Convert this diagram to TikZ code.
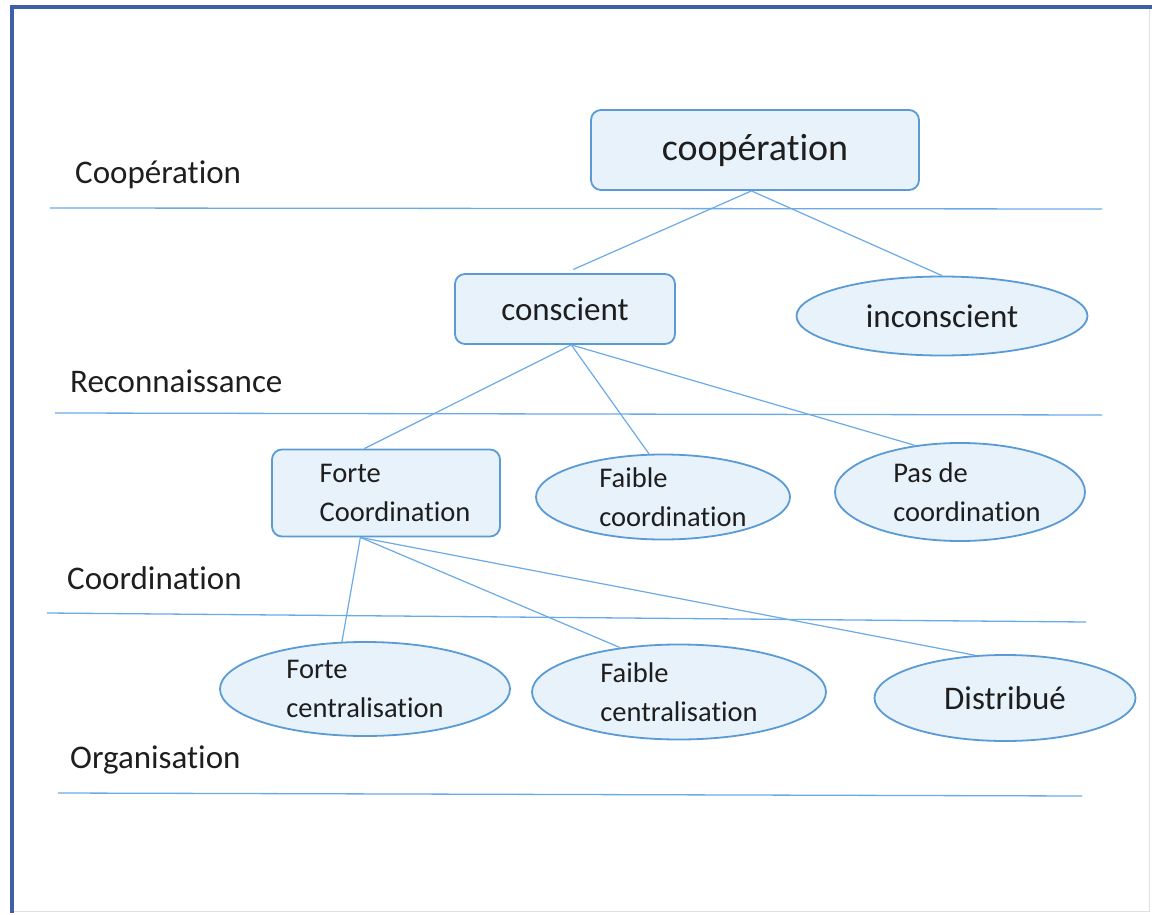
\documentclass[tikz,border=0pt]{standalone}
\usepackage{fontspec}
\setmainfont{Carlito}[Ligatures=NoCommon,RawFeature={-liga;-calt}]
\usepackage{xcolor}
\usepackage{tikz}
\usetikzlibrary{
	shapes.geometric
}
\definecolor{frameblue}{HTML}{3F5FA8}
\definecolor{edgeblue}{HTML}{5B9BD5}
\definecolor{lineblue}{HTML}{6AAAE6}
\definecolor{fillblue}{HTML}{E8F2FA}
\definecolor{inkgray}{HTML}{1E1E1E}

\tikzset{
	levelbox/.style={rounded corners=10pt,draw=edgeblue,line width=1.8pt,fill=fillblue,
		text=inkgray,inner sep=0pt},
	leveloval/.style={ellipse,draw=edgeblue,line width=1.8pt,fill=fillblue,
		text=inkgray,inner sep=0pt},
	levellabel/.style={anchor=base west,text=inkgray,inner sep=0pt,
		font=\fontsize{33}{40}\selectfont},
	bigtxt/.style={font=\fontsize{38}{46}\selectfont},
	midtxt/.style={font=\fontsize{33}{40}\selectfont},
	smalltxt/.style={font=\fontsize{28.5}{39}\selectfont,align=left},
	link/.style={draw=lineblue,line width=1.2pt},
	sepline/.style={draw=lineblue,line width=1.3pt}
}

\begin{document}
\begin{tikzpicture}[x=1pt,y=-1pt]
	\useasboundingbox (0,0) rectangle (1152,915);
	% frame
	\draw[black!12,line width=1pt] (1149,7) -- (1149,911) -- (12,911);
	\draw[frameblue,line width=4pt] (12,913) -- (12,7) -- (1152,7);
	%
	\draw[sepline] (50,208) -- (1102,209);
	\draw[sepline] (55,413) -- (1102,415);
	\draw[sepline] (47,613) -- (1086,622);
	\draw[sepline] (58,793) -- (1082,796);
	%
	\node[levellabel] (lcoop) at (75,184) {Coopération};
	\node[levellabel] (lreco) at (70,392) {Reconnaissance};
	\node[levellabel] (lcoor) at (67,589) {Coordination};
	\node[levellabel] (lorga) at (70,768) {Organisation};
	%
	\node[levelbox,bigtxt,minimum width=328pt,minimum height=80pt] (coop) at (755,150) {coopération};
	\node[levelbox,midtxt,minimum width=220pt,minimum height=70pt] (consc) at (565,309) {conscient};
	\node[leveloval,midtxt,minimum width=291pt,minimum height=79pt] (incons) at (942,316) {inconscient};
	%
	\node[levelbox,smalltxt,minimum width=228pt,minimum height=87pt] (fcoord) at (386,493) {\hspace*{18pt}Forte\\\hspace*{18pt}Coordination};
	\node[leveloval,smalltxt,minimum width=254pt,minimum height=85pt] (wcoord) at (663,497) {\hspace*{20pt}Faible\\\hspace*{20pt}coordination};
	\node[leveloval,smalltxt,minimum width=250pt,minimum height=98pt] (ncoord) at (960,492) {\hspace*{14pt}Pas de\\\hspace*{14pt}coordination};
	%
	\node[leveloval,smalltxt,minimum width=290pt,minimum height=94pt] (fcent) at (365,689) {Forte\\centralisation};
	\node[leveloval,smalltxt,minimum width=294pt,minimum height=95pt] (wcent) at (679,692) {Faible\\centralisation};
	\node[leveloval,midtxt,minimum width=261pt,minimum height=86pt] (distr) at (1005,698) {Distribué};
	%
	\path[link] (coop.265) -- (consc.north) [shorten >=9pt];
	\path[link] (coop.265) -- (incons.north);
	%
	\path[link] (consc.-80) -- (fcoord.116);
	\path[link] (consc.-80) -- (wcoord.108);
	\path[link] (consc.-80) -- (ncoord.134);
	%
	\path[link] (fcoord.240) -- (fcent.116);
	\path[link] (fcoord.240) -- (wcent.143);
	\path[link] (fcoord.240) -- (distr.125);
\end{tikzpicture}
\end{document}
